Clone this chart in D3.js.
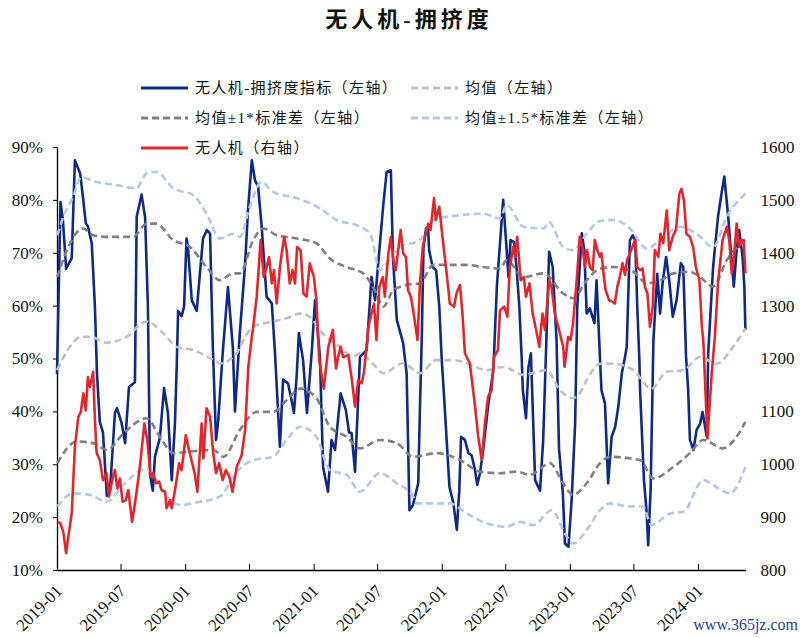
<!DOCTYPE html>
<html><head><meta charset="utf-8">
<script src="https://cdn.jsdelivr.net/npm/d3@7"></script>
<style>body{margin:0;background:#fff}</style>
</head><body>
<svg id="c" width="805" height="638"></svg>
<script>
// ---------------- DATA ----------------
const xTickLabels = ["2019-01","2019-07","2020-01","2020-07","2021-01","2021-07","2022-01","2022-07","2023-01","2023-07","2024-01"];
const leftTicks = [10,20,30,40,50,60,70,80,90];
const rightTicks = [800,900,1000,1100,1200,1300,1400,1500,1600];

// 无人机-拥挤度指标（左轴, %）
const crowdIndex = [["2019-01-01",47],["2019-01-11",79.6],["2019-01-18",76],["2019-01-27",67],["2019-02-12",69],["2019-02-21",87.5],["2019-03-08",85],["2019-03-16",80.5],["2019-03-24",75.6],["2019-03-30",75],["2019-04-10",71.8],["2019-04-19",59.8],["2019-04-25",47],["2019-05-03",38],["2019-05-12",36],["2019-05-23",24],["2019-06-01",25],["2019-06-15",39.7],["2019-06-21",40.6],["2019-07-04",37.8],["2019-07-14",34],["2019-07-25",44.6],["2019-08-11",45.5],["2019-08-16",76.8],["2019-08-30",81],["2019-09-09",76.7],["2019-09-17",59.7],["2019-09-23",28],["2019-10-01",25],["2019-10-07",31.4],["2019-10-21",35],["2019-11-02",44.4],["2019-11-13",39.7],["2019-11-24",27],["2019-12-03",37.8],["2019-12-08",48.4],["2019-12-12",59],["2019-12-22",58],["2019-12-29",59.8],
["2020-01-05",72.7],["2020-01-09",71],["2020-01-20",61],["2020-02-03",59],["2020-02-12",66],["2020-02-21",72.7],["2020-03-03",74.3],["2020-03-12",73.6],["2020-03-20",52],["2020-03-29",34.6],["2020-04-04",38],["2020-04-17",51],["2020-05-02",63.5],["2020-05-16",52],["2020-05-22",40],["2020-06-05",55],["2020-06-20",68],["2020-06-28",78],["2020-07-09",87.5],["2020-07-18",83.7],["2020-07-27",82.5],["2020-08-06",75],["2020-08-20",61.7],["2020-09-04",60.4],["2020-09-13",51],["2020-09-27",33.3],["2020-10-06",46],["2020-10-20",45.3],["2020-10-28",42.8],["2020-11-06",39.7],["2020-11-14",47],["2020-11-20",54.8],["2020-12-02",49.7],["2020-12-13",39.7],["2020-12-27",51.6],
["2021-01-05",61],["2021-01-19",50.3],["2021-01-28",29.5],["2021-02-11",24.8],["2021-02-21",34.6],["2021-03-03",32.7],["2021-03-19",43.4],["2021-04-03",40.2],["2021-04-12",36],["2021-04-19",35.9],["2021-04-29",28.6],["2021-05-13",50.3],["2021-06-01",51.6],["2021-06-15",65.4],["2021-06-25",61],["2021-07-18",78.7],["2021-07-28",85.3],["2021-08-09",85.6],["2021-08-15",69.2],["2021-08-26",57.3],["2021-09-13",52.9],["2021-09-23",47.2],["2021-10-01",21.3],["2021-10-11",22.3],["2021-10-26",26.4],["2021-10-31",40.9],["2021-11-05",53.5],["2021-11-10",71],["2021-11-17",74.6],["2021-11-23",74.9],["2021-11-26",70.5],["2021-12-06",67.3],["2021-12-16",66.7],["2021-12-25",59.8],
["2022-01-01",49.7],["2022-01-06",44.6],["2022-01-23",25.7],["2022-02-03",22.7],["2022-02-13",17.6],["2022-02-20",25.1],["2022-02-25",35.2],["2022-03-08",34.6],["2022-03-18",32.1],["2022-03-27",31.7],["2022-04-06",28.9],["2022-04-12",26.1],["2022-04-20",28.3],["2022-04-29",32.7],["2022-05-14",41.5],["2022-05-28",47.8],["2022-06-07",63.6],["2022-06-25",80],["2022-07-03",72.4],["2022-07-10",65.4],["2022-07-16",72.4],["2022-07-26",72],["2022-08-02",67.3],["2022-08-10",59.8],["2022-08-17",49.7],["2022-08-20",44],["2022-08-29",38.7],["2022-09-05",48.4],["2022-09-12",51],["2022-09-24",27],["2022-10-08",25],["2022-10-17",34.6],["2022-11-03",70.2],["2022-11-13",67.3],["2022-11-24",53.5],["2022-12-01",33],["2022-12-12",24.5],["2022-12-18",15],["2022-12-28",14.4],
["2023-01-06",23.2],["2023-01-16",37.7],["2023-01-22",59.8],["2023-02-04",73.7],["2023-02-11",70.5],["2023-02-18",58.5],["2023-02-27",59.5],["2023-03-12",56.7],["2023-03-18",64.8],["2023-03-28",49.7],["2023-04-01",44],["2023-04-11",41.5],["2023-04-20",26.4],["2023-04-30",35.2],["2023-05-10",37.1],["2023-05-19",40.9],["2023-05-29",47.2],["2023-06-07",50.3],["2023-06-12",52.2],["2023-06-21",72.4],["2023-06-29",73.3],["2023-07-06",72.4],["2023-07-12",59.8],["2023-07-18",49.7],["2023-07-20",44],["2023-07-31",27],["2023-08-08",20.7],["2023-08-12",14.7],["2023-08-19",25.1],["2023-08-27",53.5],["2023-09-07",66],["2023-09-15",58.5],["2023-09-22",64.2],["2023-10-02",69.2],["2023-10-11",64.8],["2023-10-21",57.9],["2023-11-01",61],["2023-11-13",68],["2023-11-20",67.3],["2023-11-28",50.3],["2023-12-04",44],["2023-12-09",34.6],["2023-12-19",32.7],["2023-12-28",36.5],
["2024-01-07",37.7],["2024-01-14",39.9],["2024-01-26",35.2],["2024-01-30",50.9],["2024-02-13",67.3],["2024-02-27",76.8],["2024-03-08",81.2],["2024-03-16",84.4],["2024-03-27",76.8],["2024-04-05",69.2],["2024-04-12",63.6],["2024-04-20",70.5],["2024-04-27",74.3],["2024-05-07",69.2],["2024-05-12",63.6],["2024-05-15",55.4]];

// 无人机（右轴）
const dronePrice = [["2019-01-02",891],["2019-01-10",889],["2019-01-19",872],["2019-01-27",832],["2019-02-05",876],["2019-02-12",907],["2019-02-21",1033],["2019-03-03",1090],["2019-03-10",1099],["2019-03-17",1134],["2019-03-24",1102],["2019-03-30",1165],["2019-04-05",1146],["2019-04-14",1175],["2019-04-19",1084],["2019-04-24",1021],["2019-05-03",1008],["2019-05-12",970],["2019-05-22",983],["2019-05-29",939],["2019-06-09",976],["2019-06-15",989],["2019-06-22",954],["2019-06-29",973],["2019-07-07",929],["2019-07-16",932],["2019-07-23",951],["2019-08-03",891],["2019-08-14",939],["2019-08-25",995],["2019-09-07",1077],["2019-09-15",1046],["2019-09-25",976],["2019-10-02",983],["2019-10-10",964],["2019-10-19",967],["2019-10-26",951],["2019-11-05",948],["2019-11-09",917],["2019-11-19",932],["2019-11-24",917],["2019-12-03",951],["2019-12-15",1002],["2019-12-22",989],
["2020-01-03",1055],["2020-01-12",1027],["2020-01-19",1008],["2020-01-28",983],["2020-02-05",948],["2020-02-17",1077],["2020-02-22",1011],["2020-03-02",1106],["2020-03-12",1090],["2020-03-21",1021],["2020-03-29",983],["2020-04-07",1002],["2020-04-17",970],["2020-04-26",989],["2020-05-06",976],["2020-05-15",948],["2020-05-27",995],["2020-06-10",1017],["2020-06-20",1065],["2020-06-29",1184],["2020-07-06",1225],["2020-07-13",1260],["2020-07-23",1317],["2020-08-03",1424],["2020-08-12",1354],["2020-08-20",1373],["2020-08-27",1392],["2020-09-04",1342],["2020-09-10",1367],["2020-09-18",1304],["2020-09-27",1373],["2020-10-09",1430],["2020-10-16",1405],["2020-10-25",1342],["2020-11-02",1367],["2020-11-09",1342],["2020-11-15",1411],["2020-11-25",1405],["2020-12-03",1323],["2020-12-12",1317],["2020-12-21",1380],
["2021-01-02",1354],["2021-01-09",1310],["2021-01-17",1197],["2021-01-30",1143],["2021-02-12",1222],["2021-02-25",1254],["2021-03-03",1203],["2021-03-06",1181],["2021-03-12",1203],["2021-03-19",1222],["2021-03-26",1203],["2021-04-10",1206],["2021-04-19",1165],["2021-04-29",1109],["2021-05-08",1159],["2021-05-18",1153],["2021-05-24",1172],["2021-06-01",1222],["2021-06-06",1260],["2021-06-15",1285],["2021-06-22",1304],["2021-06-29",1235],["2021-07-07",1335],["2021-07-17",1354],["2021-07-23",1317],["2021-08-02",1399],["2021-08-09",1430],["2021-08-16",1386],["2021-08-23",1367],["2021-08-30",1405],["2021-09-06",1443],["2021-09-13",1399],["2021-09-21",1392],["2021-09-27",1329],["2021-10-05",1317],["2021-10-12",1290],["2021-10-24",1235],["2021-10-31",1342],["2021-11-08",1411],["2021-11-14",1430],["2021-11-24",1455],["2021-11-30",1443],["2021-12-10",1503],["2021-12-15",1462],["2021-12-25",1487],
["2022-01-01",1443],["2022-01-15",1361],["2022-01-24",1304],["2022-02-05",1298],["2022-02-12",1323],["2022-02-22",1339],["2022-03-01",1285],["2022-03-08",1210],["2022-03-22",1191],["2022-04-06",1109],["2022-04-15",1052],["2022-04-25",1008],["2022-05-04",1077],["2022-05-13",1128],["2022-05-23",1140],["2022-05-30",1203],["2022-06-10",1216],["2022-06-16",1291],["2022-06-28",1298],["2022-07-07",1279],["2022-07-14",1373],["2022-07-24",1411],["2022-07-29",1392],["2022-08-04",1430],["2022-08-14",1348],["2022-08-23",1354],["2022-08-29",1317],["2022-09-08",1342],["2022-09-17",1285],["2022-09-27",1254],["2022-10-06",1222],["2022-10-15",1285],["2022-10-22",1254],["2022-11-03",1348],["2022-11-10",1335],["2022-11-19",1285],["2022-11-29",1260],["2022-12-13",1222],["2022-12-17",1184],["2022-12-27",1241],
["2023-01-03",1235],["2023-01-10",1266],["2023-01-22",1361],["2023-01-29",1430],["2023-02-06",1411],["2023-02-13",1373],["2023-02-19",1405],["2023-02-27",1373],["2023-03-07",1367],["2023-03-13",1424],["2023-03-20",1405],["2023-03-28",1392],["2023-04-01",1399],["2023-04-08",1354],["2023-04-13",1329],["2023-04-23",1310],["2023-05-03",1307],["2023-05-09",1304],["2023-05-16",1335],["2023-05-23",1354],["2023-05-31",1380],["2023-06-07",1358],["2023-06-13",1386],["2023-06-21",1399],["2023-06-28",1411],["2023-07-06",1424],["2023-07-12",1373],["2023-07-20",1367],["2023-07-27",1370],["2023-08-03",1335],["2023-08-10",1323],["2023-08-17",1260],["2023-08-25",1298],["2023-08-31",1405],["2023-09-10",1392],["2023-09-16",1436],["2023-09-24",1418],["2023-10-04",1480],["2023-10-11",1405],["2023-10-21",1430],["2023-10-30",1443],["2023-11-09",1512],["2023-11-15",1521],["2023-11-22",1499],["2023-11-29",1436],["2023-12-09",1430],["2023-12-18",1411],["2023-12-26",1373],
["2024-01-05",1348],["2024-01-12",1260],["2024-01-16",1235],["2024-01-28",1049],["2024-02-09",1172],["2024-02-18",1241],["2024-02-27",1342],["2024-03-11",1424],["2024-03-23",1449],["2024-03-30",1424],["2024-04-06",1361],["2024-04-12",1386],["2024-04-20",1455],["2024-04-27",1411],["2024-05-04",1424],["2024-05-10",1424],["2024-05-15",1361]];

// 均值（左轴）
const meanLine = [["2019-01-01",47.8],["2019-02-16",53],["2019-03-08",54.1],["2019-04-05",54.1],["2019-05-23",53],["2019-07-18",54.1],["2019-09-13",57],["2019-11-01",54.7],["2019-12-08",52.2],["2020-01-24",51.6],["2020-03-22",49.7],["2020-04-09",49.1],["2020-05-27",51],["2020-06-05",52.2],["2020-07-13",56],["2020-08-30",56.9],["2020-10-16",57.6],["2020-11-24",58.5],["2020-12-21",57.9],["2021-01-27",54.7],["2021-03-17",52.2],["2021-04-24",50.3],["2021-05-13",51],["2021-06-19",49],["2021-07-18",47.2],["2021-09-13",49.1],["2021-10-31",47.2],["2021-12-16",49.7],["2022-02-03",49.7],["2022-03-13",49.1],["2022-05-09",47.8],["2022-06-25",48.4],["2022-08-22",46.9],["2022-10-26",47.8],["2022-12-04",44],["2023-01-10",42.5],["2023-01-29",43.4],["2023-02-18",45.9],["2023-03-28",49],["2023-05-05",49],["2023-07-01",47.8],["2023-08-21",44.3],["2023-10-04",47.5],["2023-11-20",47.8],["2024-01-07",50.3],["2024-02-22",49],["2024-04-10",52.2],["2024-05-15",55.7]];

// 均值 + 1*标准差
const upper1Line = [["2019-01-02",65.4],["2019-01-29",70.5],["2019-03-17",74.6],["2019-04-14",73.3],["2019-05-23",73],["2019-08-06",73],["2019-09-13",75.5],["2019-10-11",75.5],["2019-11-28",72.4],["2020-01-15",71.1],["2020-03-02",67.3],["2020-04-09",64.8],["2020-05-17",66.1],["2020-06-05",66.1],["2020-07-13",72.4],["2020-08-10",74.6],["2020-09-18",73.3],["2020-11-14",72.7],["2021-01-09",71.8],["2021-02-16",68.9],["2021-04-05",67.3],["2021-05-22",66.1],["2021-06-29",62.3],["2021-07-18",59.8],["2021-08-16",62.9],["2021-09-23",63.9],["2021-10-31",64.2],["2021-12-08",67.7],["2022-03-13",67.7],["2022-04-29",67.3],["2022-06-16",67],["2022-07-05",68.6],["2022-08-22",65.4],["2022-10-18",66.1],["2022-12-13",62.3],["2023-01-10",61.4],["2023-02-18",64.8],["2023-03-28",67],["2023-05-05",67.3],["2023-07-01",66.4],["2023-08-08",64.2],["2023-09-15",64.8],["2023-10-23",66.1],["2023-12-09",66.4],["2024-01-07",65.4],["2024-02-13",63.6],["2024-03-23",68.6],["2024-05-15",72.4]];

// 均值 - 1*标准差
const lower1Line = [["2019-01-02",30.2],["2019-02-26",34.3],["2019-04-14",34],["2019-05-23",32.7],["2019-07-09",35.8],["2019-09-13",38.7],["2019-10-21",35.2],["2019-11-28",32.1],["2020-01-15",32.4],["2020-03-22",32.7],["2020-04-19",31.4],["2020-06-05",36.5],["2020-07-23",39.9],["2020-09-07",39.9],["2020-10-16",42.1],["2020-11-24",44.3],["2021-01-09",42.5],["2021-02-16",37.1],["2021-04-05",35.2],["2021-05-13",33],["2021-07-09",34.6],["2021-08-26",34],["2021-10-12",31.4],["2021-12-16",32.1],["2022-02-22",30.8],["2022-04-20",28.6],["2022-06-16",28.3],["2022-08-02",28.6],["2022-09-09",28],["2022-11-05",30.2],["2022-12-13",26.4],["2023-01-10",24.2],["2023-02-18",26.4],["2023-03-28",30.2],["2023-04-25",31.4],["2023-07-20",30.8],["2023-08-27",27.3],["2023-10-23",29.5],["2023-12-09",32.1],["2024-01-16",34.6],["2024-03-12",33],["2024-04-20",35.2],["2024-05-15",38]];

// 均值 + 1.5*标准差
const upper15Line = [["2019-01-02",73.3],["2019-01-19",76.8],["2019-02-16",80.6],["2019-03-11",84.3],["2019-04-24",83.4],["2019-06-19",82.8],["2019-08-15",82.2],["2019-09-13",85],["2019-10-11",85.3],["2019-11-28",82.2],["2020-01-24",80.9],["2020-03-02",77.4],["2020-04-09",72.7],["2020-05-17",73.6],["2020-06-05",73],["2020-07-03",78.7],["2020-08-06",83.4],["2020-09-07",81.5],["2020-11-14",80.3],["2021-01-19",78.4],["2021-03-07",76.2],["2021-05-04",75.2],["2021-06-11",73.6],["2021-07-09",66.7],["2021-07-28",68],["2021-09-04",71.1],["2021-10-31",72.4],["2021-12-08",76.2],["2022-02-22",77.1],["2022-04-29",77.4],["2022-06-16",76.5],["2022-07-05",79],["2022-08-22",74.9],["2022-10-18",74.6],["2022-11-02",75.8],["2022-12-13",71.1],["2023-01-10",70.5],["2023-02-18",73.6],["2023-03-28",76],["2023-05-05",76.2],["2023-06-21",74.6],["2023-08-08",70.8],["2023-09-15",72.4],["2023-11-11",74.9],["2023-12-28",73.6],["2024-02-13",71.1],["2024-03-23",76.8],["2024-05-15",81.2]];

// 均值 - 1.5*标准差
const lower15Line = [["2019-01-02",22],["2019-02-16",24.5],["2019-04-05",24.2],["2019-05-23",22.9],["2019-07-09",26.1],["2019-09-13",29.2],["2019-11-09",23.9],["2019-12-17",22.3],["2020-02-12",22.9],["2020-04-09",23.9],["2020-05-27",28.6],["2020-07-13",30.8],["2020-09-07",31.4],["2020-10-16",34.6],["2020-11-24",37.1],["2021-01-09",35.2],["2021-02-16",28.9],["2021-04-05",28],["2021-05-13",24.8],["2021-07-09",28.3],["2021-08-26",26.4],["2021-10-12",23.9],["2021-10-22",22.6],["2022-01-24",22.6],["2022-03-13",20.7],["2022-05-09",18.8],["2022-07-05",18.2],["2022-08-12",19.1],["2022-09-19",18.5],["2022-11-10",21.3],["2022-12-18",16.9],["2023-01-10",15],["2023-02-18",17.6],["2023-03-28",21.3],["2023-04-25",22.6],["2023-06-21",22],["2023-07-29",22],["2023-08-21",18.5],["2023-10-14",20.7],["2023-11-20",21],["2024-01-16",27],["2024-02-22",25.7],["2024-04-01",24.5],["2024-05-15",29.5]];

// ---------------- CHART ----------------
(function () {
const FONT = "'Liberation Serif','Noto Sans CJK SC',serif";
const CJK = "'Liberation Serif','Noto Sans CJK SC',sans-serif";
const parse = d3.timeParse("%Y-%m-%d");
const parseM = d3.timeParse("%Y-%m");
const svg = d3.select("#c");

const pL = 57, pR = 745.4, pT = 147, pB = 570;
const x = d3.scaleTime().domain([parse("2019-01-01"), parse("2024-05-15")]).range([pL, pR]);
const yL = d3.scaleLinear().domain([10, 90]).range([pB, pT]);
const yR = d3.scaleLinear().domain([800, 1600]).range([pB, pT]);

// title
svg.append("text").attr("x", 409).attr("y", 27).attr("text-anchor", "middle")
  .attr("font-family", CJK).attr("font-size", 22).attr("font-weight", "bold")
  .attr("letter-spacing", 4).attr("fill", "#111").text("无人机-拥挤度");

// axes
const gx = svg.append("g").attr("transform", `translate(0,${pB})`)
  .call(d3.axisBottom(x).tickValues(xTickLabels.map(parseM)).tickSizeInner(-6).tickSizeOuter(0).tickFormat(""));
gx.select(".domain").attr("stroke", "#000").attr("stroke-width", 1.3);
gx.selectAll(".tick line").attr("stroke", "#000");
xTickLabels.forEach(t => {
  const px = x(parseM(t));
  svg.append("text").attr("transform", `translate(${px + 6},${pB + 22}) rotate(-45)`)
    .attr("text-anchor", "end").attr("font-family", FONT).attr("font-size", 17)
    .attr("fill", "#111").text(t);
});

const gy = svg.append("g").attr("transform", `translate(${pL},0)`)
  .call(d3.axisLeft(yL).tickValues(leftTicks).tickSize(4).tickSizeOuter(0).tickFormat(d => d + "%"));
gy.select(".domain").attr("stroke", "#000").attr("stroke-width", 1.3);
gy.selectAll(".tick line").attr("stroke", "#000");
gy.selectAll(".tick text").attr("font-family", FONT).attr("font-size", 17).attr("fill", "#111").attr("x", -14);

const gr = svg.append("g").attr("transform", `translate(${pR},0)`)
  .call(d3.axisRight(yR).tickValues(rightTicks).tickSize(0).tickFormat(d => d));
gr.select(".domain").remove();
gr.selectAll(".tick text").attr("font-family", FONT).attr("font-size", 17).attr("fill", "#111").attr("x", 15);

// lines
const lineL = d3.line().x(d => x(parse(d[0]))).y(d => yL(d[1]));
const lineLs = d3.line().curve(d3.curveMonotoneX).x(d => x(parse(d[0]))).y(d => yL(d[1]));
const lineR = d3.line().x(d => x(parse(d[0]))).y(d => yR(d[1]));

const C_BLUE = "#0f2a86", C_MEAN = "#c0c0c0", C_STD1 = "#808080", C_STD15 = "#b4c7e7", C_RED = "#e2262b";

svg.append("path").datum(crowdIndex).attr("d", lineL).attr("fill", "none")
  .attr("stroke", C_BLUE).attr("stroke-width", 2.6).attr("stroke-linejoin", "round");
svg.append("path").datum(meanLine).attr("d", lineLs).attr("fill", "none")
  .attr("stroke", C_MEAN).attr("stroke-width", 2.6).attr("stroke-dasharray", "7,4");
[upper1Line, lower1Line].forEach(s => svg.append("path").datum(s).attr("d", lineLs).attr("fill", "none")
  .attr("stroke", C_STD1).attr("stroke-width", 2.6).attr("stroke-dasharray", "7,4"));
[upper15Line, lower15Line].forEach(s => svg.append("path").datum(s).attr("d", lineLs).attr("fill", "none")
  .attr("stroke", C_STD15).attr("stroke-width", 2.6).attr("stroke-dasharray", "7,4"));
svg.append("path").datum(dronePrice).attr("d", lineR).attr("fill", "none")
  .attr("stroke", C_RED).attr("stroke-width", 2.6).attr("stroke-linejoin", "round");

// legend
const legend = [
  {label: "无人机-拥挤度指标（左轴）", color: C_BLUE, dash: null, x: 141, y: 88},
  {label: "均值（左轴）", color: C_MEAN, dash: "7,4", x: 411, y: 88},
  {label: "均值±1*标准差（左轴）", color: C_STD1, dash: "7,4", x: 141, y: 118},
  {label: "均值±1.5*标准差（左轴）", color: C_STD15, dash: "7,4", x: 411, y: 118},
  {label: "无人机（右轴）", color: C_RED, dash: null, x: 141, y: 148}
];
legend.forEach(l => {
  svg.append("line").attr("x1", l.x).attr("x2", l.x + 47).attr("y1", l.y).attr("y2", l.y)
    .attr("stroke", l.color).attr("stroke-width", 3).attr("stroke-dasharray", l.dash);
  svg.append("text").attr("x", l.x + 54).attr("y", l.y + 5).attr("font-family", CJK)
    .attr("font-size", 15).attr("letter-spacing", 1.4).attr("fill", "#111").text(l.label);
});

// watermark
svg.append("text").attr("x", 798).attr("y", 630).attr("text-anchor", "end")
  .attr("font-family", FONT).attr("font-size", 16).attr("fill", "#1f3f8f").text("www.365jz.com");
})();
</script>
</body></html>
